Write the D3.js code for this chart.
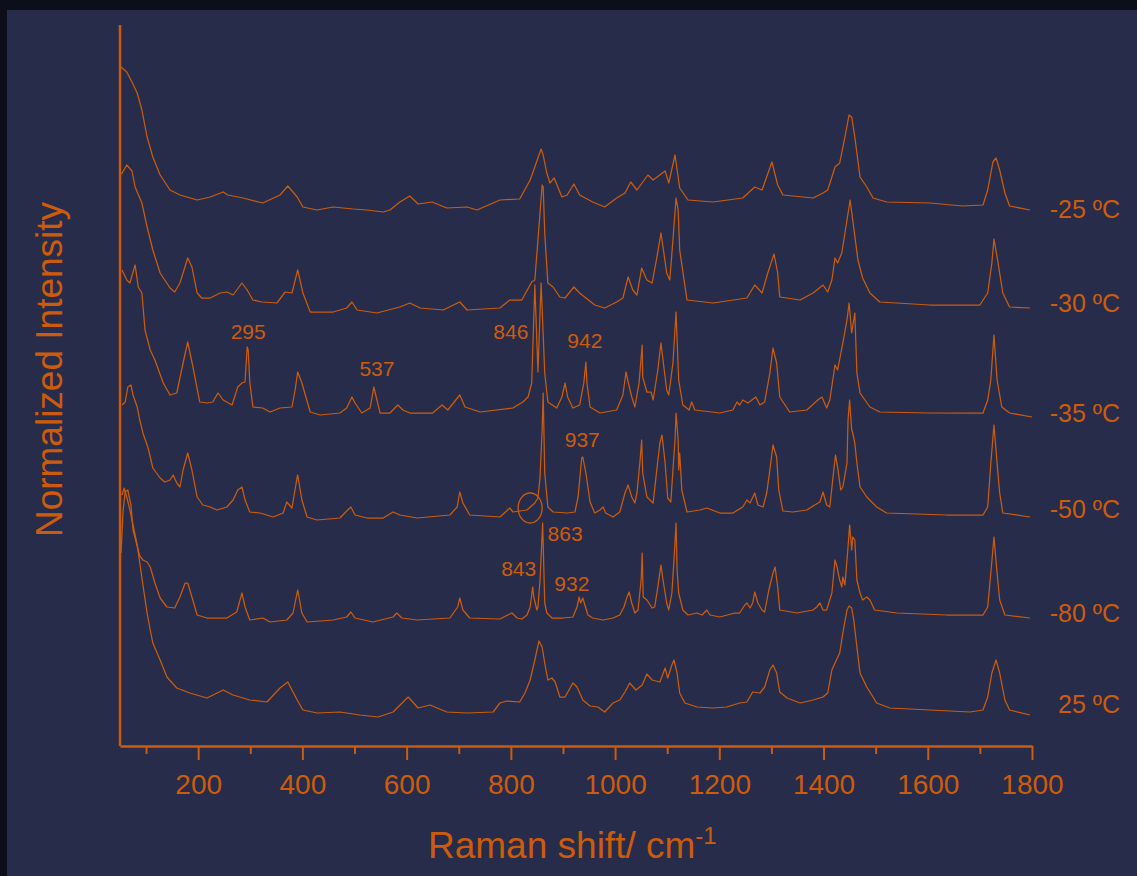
<!DOCTYPE html>
<html>
<head>
<meta charset="utf-8">
<script src="https://cdn.jsdelivr.net/npm/d3@7"></script>
<style>
  html, body { margin: 0; padding: 0; background: #0c0f1a; }
  svg { display: block; }
  text { font-family: "Liberation Sans", Arial, sans-serif; fill: #cc5c0c; }
</style>
</head>
<body>
<div id="chart"></div>
<script>
// Raman spectra, stacked. Each series is [shift cm-1, intensity above its own baseline].
const SHIFT_DOMAIN = [50, 1800];
const MAJOR_TICKS = [200, 400, 600, 800, 1000, 1200, 1400, 1600, 1800];
const MINOR_TICKS = [100, 300, 500, 700, 900, 1100, 1300, 1500, 1700];

const TEMPS = ['-25 ºC', '-30 ºC', '-35 ºC', '-50 ºC', '-80 ºC', '25 ºC'];
const OFFSETS = [541, 441, 333, 231, 131, 34];

const S_M25 = [[52,138],[63,133],[73,123],[83,112],[92,95],[102,68],[113,48],[127,30],[146,15],[165,10],[198,5],[223,8],[248,13],[257,10],[286,7],[324,2],[357,10],[372,19],[390,8],[401,-2],[428,-5],[459,-2],[497,-4],[524,-5],[555,-7],[568,-5],[587,3],[606,9],[622,1],[649,3],[677,-3],[716,-2],[735,-5],[779,5],[817,6],[837,25],[846,38],[858,56],[862,50],[869,32],[875,22],[883,27],[898,8],[908,10],[921,21],[932,10],[957,3],[980,-2],[1003,7],[1019,12],[1030,23],[1042,15],[1063,30],[1073,25],[1096,34],[1103,22],[1115,50],[1124,17],[1140,5],[1188,3],[1245,7],[1268,18],[1282,15],[1301,43],[1312,20],[1322,10],[1380,7],[1399,12],[1408,15],[1416,28],[1422,38],[1431,42],[1441,68],[1449,90],[1454,88],[1460,68],[1470,28],[1483,18],[1495,7],[1521,3],[1604,2],[1667,-1],[1706,0],[1715,15],[1725,43],[1731,47],[1738,35],[1748,12],[1757,-1],[1796,-5]];

const S_M30 = [[53,131],[63,140],[73,134],[79,118],[92,102],[102,78],[113,55],[127,32],[146,17],[155,13],[165,22],[180,47],[188,38],[198,12],[207,7],[223,7],[242,12],[255,13],[267,10],[284,22],[294,15],[305,5],[322,3],[351,2],[367,13],[380,12],[391,35],[401,12],[415,-7],[459,-7],[485,-3],[495,3],[505,-5],[543,-8],[587,-2],[606,2],[626,-3],[670,-5],[702,3],[716,-5],[779,-3],[798,5],[821,5],[840,23],[846,25],[852,65],[860,120],[862,118],[865,72],[871,22],[881,18],[894,8],[904,7],[921,18],[932,12],[961,0],[980,-3],[1003,3],[1015,7],[1025,28],[1034,15],[1042,10],[1051,37],[1061,25],[1071,22],[1080,47],[1088,72],[1092,58],[1099,32],[1105,25],[1111,65],[1117,107],[1121,95],[1124,55],[1138,5],[1188,2],[1253,7],[1268,20],[1282,12],[1293,32],[1305,51],[1312,32],[1316,8],[1355,5],[1380,12],[1399,20],[1408,13],[1416,25],[1422,47],[1427,42],[1435,52],[1445,85],[1451,105],[1456,85],[1466,45],[1475,27],[1489,12],[1508,3],[1604,0],[1700,0],[1715,12],[1723,42],[1727,66],[1734,45],[1744,12],[1757,-2],[1796,-3]];

const S_M35 = [[54,143],[63,133],[69,130],[79,148],[85,126],[92,120],[98,83],[108,63],[117,53],[133,30],[146,18],[159,20],[171,50],[180,71],[190,46],[203,11],[217,10],[228,11],[238,20],[248,13],[265,8],[276,26],[284,30],[290,31],[294,66],[296,63],[299,31],[305,6],[324,5],[338,1],[357,5],[380,6],[386,23],[391,41],[399,30],[415,1],[434,-2],[472,0],[485,5],[495,16],[501,10],[514,0],[530,5],[537,26],[543,13],[549,0],[568,0],[583,8],[593,3],[606,0],[650,0],[668,8],[679,3],[702,18],[712,6],[741,1],[804,5],[823,11],[833,16],[840,30],[846,128],[852,41],[858,130],[865,40],[871,11],[888,5],[898,16],[904,30],[909,16],[919,5],[932,8],[940,30],[944,51],[946,30],[952,6],[971,0],[1003,3],[1015,18],[1021,41],[1025,31],[1032,16],[1038,6],[1046,30],[1052,68],[1053,36],[1061,21],[1069,21],[1073,13],[1082,43],[1088,70],[1092,53],[1099,23],[1103,18],[1111,50],[1117,101],[1122,33],[1130,8],[1142,3],[1147,11],[1153,3],[1201,0],[1226,3],[1234,11],[1239,8],[1245,13],[1255,10],[1270,16],[1278,8],[1287,11],[1297,40],[1303,65],[1310,50],[1316,16],[1335,1],[1368,3],[1389,13],[1397,16],[1406,5],[1412,13],[1422,48],[1427,43],[1437,70],[1445,93],[1449,110],[1454,80],[1460,100],[1464,40],[1470,20],[1489,6],[1508,1],[1604,0],[1706,0],[1715,13],[1721,33],[1727,78],[1733,33],[1742,6],[1757,0],[1800,-4]];

const S_M50 = [[54,110],[60,113],[65,128],[71,130],[75,120],[83,108],[88,95],[94,82],[104,67],[113,47],[127,37],[136,33],[146,35],[152,40],[159,32],[165,28],[171,45],[180,62],[188,45],[198,18],[209,10],[223,8],[236,5],[255,8],[267,15],[276,25],[284,28],[290,15],[299,3],[319,2],[344,-2],[363,2],[370,13],[380,7],[390,38],[391,40],[399,15],[409,-2],[428,-5],[472,-3],[487,5],[493,8],[501,0],[524,-3],[555,-3],[574,3],[587,0],[620,-3],[683,0],[697,8],[702,23],[708,12],[721,0],[779,-2],[798,7],[804,3],[831,5],[846,12],[852,17],[856,38],[860,85],[862,122],[865,42],[871,8],[881,3],[908,2],[923,3],[929,18],[936,57],[938,58],[944,42],[952,13],[961,2],[971,5],[977,8],[982,2],[996,-2],[1009,3],[1019,22],[1025,30],[1032,18],[1038,12],[1042,22],[1048,55],[1051,75],[1053,42],[1061,18],[1071,13],[1073,12],[1080,45],[1086,72],[1090,80],[1096,52],[1101,17],[1107,13],[1111,45],[1115,75],[1117,102],[1121,75],[1122,45],[1124,62],[1128,25],[1138,3],[1163,5],[1176,7],[1201,2],[1226,2],[1245,8],[1253,15],[1259,12],[1268,22],[1274,10],[1284,8],[1291,22],[1297,45],[1303,70],[1310,58],[1314,25],[1322,4],[1341,3],[1368,5],[1383,10],[1393,13],[1399,23],[1406,10],[1412,8],[1418,37],[1423,60],[1427,48],[1433,25],[1437,28],[1445,52],[1447,95],[1450,115],[1454,85],[1456,82],[1460,72],[1464,52],[1470,28],[1483,18],[1502,8],[1521,2],[1637,0],[1706,0],[1715,8],[1721,52],[1727,90],[1733,52],[1738,22],[1744,2],[1796,-2]];

const S_M80 = [[52,62],[56,105],[60,123],[65,125],[71,110],[75,85],[83,69],[88,59],[94,55],[102,53],[108,48],[117,32],[127,17],[140,8],[155,7],[165,18],[175,32],[180,32],[188,18],[198,0],[217,-3],[255,-3],[274,3],[284,22],[290,8],[299,-5],[324,-3],[338,-7],[370,-5],[382,2],[391,25],[399,2],[409,-7],[459,-5],[485,-2],[493,3],[501,-3],[535,-7],[574,-2],[581,2],[591,-3],[620,-5],[683,-3],[698,8],[702,17],[708,5],[721,-3],[779,-4],[794,0],[802,2],[812,-3],[821,-4],[831,0],[837,8],[842,28],[844,18],[850,5],[852,8],[856,35],[861,92],[865,12],[869,2],[879,-3],[900,-3],[919,-2],[927,8],[931,18],[934,12],[938,17],[942,10],[948,0],[957,-3],[977,-5],[996,-3],[1009,0],[1017,8],[1023,18],[1027,23],[1032,12],[1038,2],[1044,5],[1050,35],[1052,62],[1054,18],[1061,15],[1071,7],[1076,8],[1082,28],[1088,50],[1092,35],[1099,12],[1103,5],[1109,22],[1113,55],[1117,92],[1119,45],[1122,22],[1130,5],[1140,0],[1157,2],[1167,0],[1176,5],[1182,0],[1201,-2],[1230,2],[1239,2],[1249,10],[1253,12],[1259,7],[1264,12],[1268,23],[1274,12],[1282,5],[1287,3],[1295,25],[1303,42],[1307,48],[1312,28],[1316,5],[1349,2],[1380,5],[1387,8],[1393,12],[1399,5],[1406,5],[1416,22],[1422,55],[1426,48],[1427,45],[1431,35],[1435,28],[1437,38],[1441,30],[1447,68],[1450,90],[1454,65],[1456,78],[1460,75],[1464,35],[1470,22],[1475,15],[1483,18],[1489,15],[1498,5],[1541,2],[1637,0],[1706,0],[1715,8],[1721,42],[1727,78],[1733,42],[1738,15],[1748,0],[1796,-3]];

const S_P25 = [[54,217],[58,224],[63,215],[69,202],[75,187],[83,167],[88,149],[94,127],[102,99],[108,82],[113,69],[127,52],[140,35],[159,24],[184,19],[217,14],[248,22],[267,17],[299,12],[332,10],[357,24],[372,30],[390,12],[401,2],[428,-1],[472,0],[510,-3],[545,-5],[574,0],[603,15],[622,4],[645,7],[677,0],[716,-1],[766,0],[779,9],[792,11],[817,10],[827,19],[837,32],[846,52],[854,71],[860,65],[865,49],[871,32],[879,34],[885,30],[894,15],[904,15],[919,29],[927,25],[938,12],[952,6],[967,5],[980,0],[996,9],[1009,12],[1019,20],[1028,29],[1040,22],[1052,27],[1061,38],[1071,32],[1086,30],[1096,44],[1101,34],[1109,47],[1113,52],[1119,39],[1124,19],[1134,9],[1157,5],[1188,4],[1214,5],[1239,9],[1253,10],[1264,20],[1278,19],[1287,25],[1297,42],[1303,47],[1310,39],[1316,20],[1330,14],[1355,9],[1380,12],[1399,15],[1408,19],[1416,42],[1422,49],[1431,59],[1437,79],[1445,102],[1449,106],[1454,104],[1458,92],[1464,65],[1470,39],[1483,25],[1502,9],[1527,4],[1604,2],[1681,0],[1706,2],[1715,15],[1723,39],[1731,52],[1738,39],[1748,12],[1757,2],[1796,-3]];

const SERIES = [S_M25, S_M30, S_M35, S_M50, S_M80, S_P25];

// peak annotations: label text, anchor shift, absolute level on the stacked scale
const PEAK_LABELS = ['295', '537', '846', '942', '937', '863', '843', '932'];
const PEAK_SHIFTS = [296, 543, 800, 942, 937, 904, 815, 917];
const PEAK_LEVELS = [407, 370, 407, 398, 299, 205, 170, 155];

// ---- layout ----
const W = 1137, H = 876;
const plot = { left: 120, right: 1032, top: 25, bottom: 746 };
const LINE = '#cc5c0c';
const labelNudge = [13, 7, 9, 3, 7, 1];

const svg = d3.select('#chart')
  .append('svg')
  .attr('width', W)
  .attr('height', H);

svg.append('rect').attr('width', W).attr('height', H).attr('fill', '#0c0f1a');
svg.append('rect')
  .attr('x', 7).attr('y', 10)
  .attr('width', W - 7).attr('height', H - 10)
  .attr('fill', '#272c4a');

const x = d3.scaleLinear().domain(SHIFT_DOMAIN).range([plot.left, plot.right]);
const y = d3.scaleLinear().domain([0, 721]).range([plot.bottom, plot.top]);

const line = d3.line()
  .x(d => x(d[0]))
  .y(d => d[1]);

const spectra = svg.append('g').attr('class', 'spectra');

SERIES.forEach((pts, i) => {
  const off = OFFSETS[i];
  spectra.append('path')
    .attr('fill', 'none')
    .attr('stroke', LINE)
    .attr('stroke-width', 1.25)
    .attr('stroke-linejoin', 'round')
    .attr('d', line(pts.map(p => [p[0], y(off + p[1])])));

  svg.append('text')
    .attr('x', 1120)
    .attr('y', y(off) + labelNudge[i])
    .attr('text-anchor', 'end')
    .attr('font-size', 25)
    .text(TEMPS[i]);
});

// x axis, major and minor ticks
const xAxis = d3.axisBottom(x)
  .tickValues(MAJOR_TICKS)
  .tickSize(14)
  .tickSizeOuter(0)
  .tickPadding(14)
  .tickFormat(d3.format('d'));

const gx = svg.append('g')
  .attr('transform', `translate(0,${plot.bottom})`)
  .call(xAxis);
gx.select('.domain').attr('stroke', LINE).attr('stroke-width', 2.5);
gx.selectAll('.tick line').attr('stroke', LINE).attr('stroke-width', 2);
gx.selectAll('.tick text')
  .attr('fill', LINE)
  .attr('font-size', 28)
  .attr('font-family', '"Liberation Sans", Arial, sans-serif');

const gxMinor = svg.append('g')
  .attr('transform', `translate(0,${plot.bottom})`)
  .call(d3.axisBottom(x).tickValues(MINOR_TICKS).tickSize(8).tickSizeOuter(0).tickFormat(''));
gxMinor.select('.domain').remove();
gxMinor.selectAll('.tick line').attr('stroke', LINE).attr('stroke-width', 2);

// y axis: bare line
svg.append('line')
  .attr('x1', plot.left).attr('x2', plot.left)
  .attr('y1', plot.top).attr('y2', plot.bottom)
  .attr('stroke', LINE)
  .attr('stroke-width', 2.5);

// axis titles
const xTitle = svg.append('text')
  .attr('x', 428)
  .attr('y', 858)
  .attr('font-size', 37);
xTitle.append('tspan').text('Raman shift/ cm');
xTitle.append('tspan').attr('dy', -14).attr('font-size', 24).text('-1');

svg.append('text')
  .attr('transform', `translate(62,${(plot.top + plot.bottom) / 2 - 16}) rotate(-90)`)
  .attr('text-anchor', 'middle')
  .attr('font-size', 37)
  .text('Normalized Intensity');

// peak labels
PEAK_LABELS.forEach((t, i) => {
  svg.append('text')
    .attr('x', x(PEAK_SHIFTS[i]))
    .attr('y', y(PEAK_LEVELS[i]))
    .attr('text-anchor', 'middle')
    .attr('font-size', 21)
    .text(t);
});

// marker around the weak shoulder in the -50 ºC trace
svg.append('ellipse')
  .attr('cx', x(837))
  .attr('cy', y(238))
  .attr('rx', 12)
  .attr('ry', 15)
  .attr('fill', 'none')
  .attr('stroke', LINE)
  .attr('stroke-width', 1.3);
</script>
</body>
</html>
